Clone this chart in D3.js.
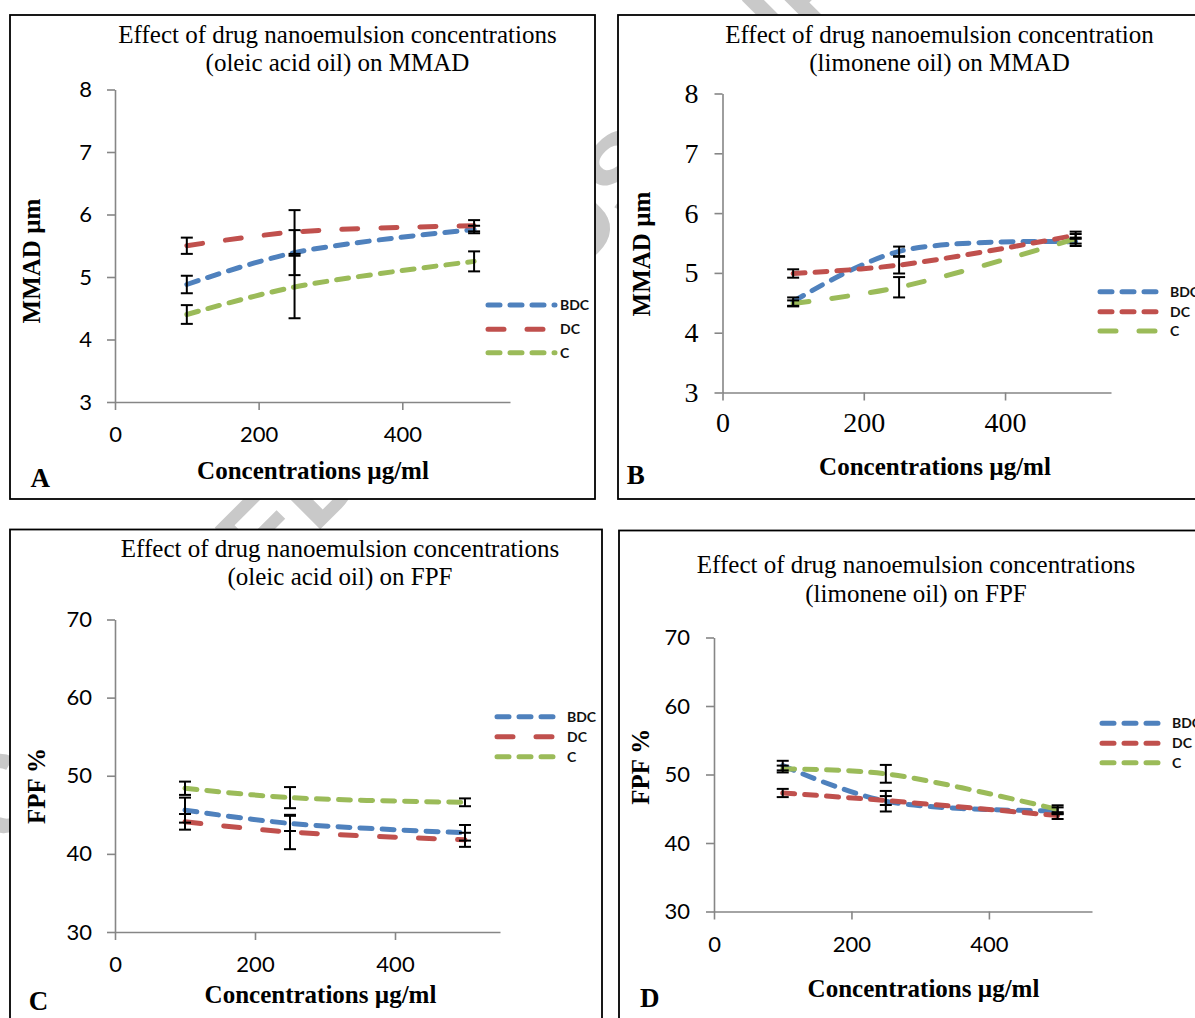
<!DOCTYPE html>
<html>
<head>
<meta charset="utf-8">
<script src="https://cdn.jsdelivr.net/npm/d3@7"></script>
<style>
body { margin: 0; background: #fff; }
svg { display: block; }
</style>
</head>
<body>
<div id="figure"></div>
<script>
// shared categories and ticks
const concentrations = [100, 250, 500];
const seriesNames = ["BDC", "DC", "C"];
const xTicks = [0, 200, 400];
const mmadTicks = [3, 4, 5, 6, 7, 8];
const fpfTicks = [30, 40, 50, 60, 70];

// A: oleic acid oil, MMAD (µm)
const oleicMmadBDC = [4.88, 5.39, 5.76];
const oleicMmadBDCErr = [0.14, 0.36, 0.06];
const oleicMmadDC = [5.50, 5.72, 5.82];
const oleicMmadDCErr = [0.13, 0.35, 0.09];
const oleicMmadC = [4.40, 4.84, 5.25];
const oleicMmadCErr = [0.15, 0.50, 0.16];

// B: limonene oil, MMAD (µm)
const limoMmadBDC = [4.52, 5.36, 5.52];
const limoMmadBDCErr = [0.07, 0.08, 0.07];
const limoMmadDC = [4.99, 5.13, 5.63];
const limoMmadDCErr = [0.07, 0.14, 0.06];
const limoMmadC = [4.49, 4.76, 5.57];
const limoMmadCErr = [0.05, 0.17, 0.08];

// C: oleic acid oil, FPF (%)
const oleicFpfBDC = [45.6, 43.9, 42.7];
const oleicFpfBDCErr = [1.6, 0.97, 1.0];
const oleicFpfDC = [44.1, 42.8, 41.8];
const oleicFpfDCErr = [1.0, 2.2, 0.9];
const oleicFpfC = [48.4, 47.2, 46.6];
const oleicFpfCErr = [0.85, 1.35, 0.5];

// D: limonene oil, FPF (%)
const limoFpfBDC = [51.3, 46.1, 44.7];
const limoFpfBDCErr = [0.7, 1.5, 0.5];
const limoFpfDC = [47.3, 46.2, 44.0];
const limoFpfDCErr = [0.6, 0.65, 0.5];
const limoFpfC = [50.8, 50.1, 44.9];
const limoFpfCErr = [0.5, 1.3, 0.6];

const colors = {BDC: "#4F81BD", DC: "#C0504D", C: "#9BBB59"};
const dashes = {dash: "12,10", long: "16,23"};
const serif = "'Liberation Serif', 'Times New Roman', serif";
const sans = "Lato, 'Open Sans', sans-serif";

const panels = [
    {
        letter: "A", box: [10, 15, 585, 484],
        xRange: [115, 510], yRange: [402, 89.5], yDomain: [3, 8], yTicks: mmadTicks,
        tickFont: sans, tickSize: 22, yPad: 15, xBase: 40,
        title: ["Effect of drug nanoemulsion concentrations", "(oleic acid oil) on MMAD"],
        titleX: 337.5, titleY: [42.7, 70.7],
        yTitle: "MMAD µm", yTitlePos: [40, 261], xTitlePos: [313, 479.3], letterPos: [30.5, 486.7],
        values: [oleicMmadBDC, oleicMmadDC, oleicMmadC],
        errors: [oleicMmadBDCErr, oleicMmadDCErr, oleicMmadCErr],
        styles: ["dash", "long", "dash"],
        legend: [488, 555, 560, [305, 329.3, 352.7]]
    },
    {
        letter: "B", box: [618, 15, 600, 484],
        xRange: [722.5, 1111], yRange: [392.5, 93.5], yDomain: [3, 8], yTicks: mmadTicks,
        tickFont: serif, tickSize: 28, yPad: 16, xBase: 39,
        title: ["Effect of drug nanoemulsion concentration", "(limonene oil) on MMAD"],
        titleX: 939.5, titleY: [42.7, 70.7],
        yTitle: "MMAD µm", yTitlePos: [649.5, 254], xTitlePos: [935, 475], letterPos: [626.8, 484],
        values: [limoMmadBDC, limoMmadDC, limoMmadC],
        errors: [limoMmadBDCErr, limoMmadDCErr, limoMmadCErr],
        styles: ["dash", "dash", "long"],
        legend: [1100, 1165, 1170, [291.7, 311.7, 331]]
    },
    {
        letter: "C", box: [10, 529.5, 592, 520],
        xRange: [115, 500], yRange: [932, 619.5], yDomain: [30, 70], yTicks: fpfTicks,
        tickFont: sans, tickSize: 22, yPad: 15, xBase: 40,
        title: ["Effect of drug nanoemulsion concentrations", "(oleic acid oil) on FPF"],
        titleX: 340, titleY: [556.7, 585],
        yTitle: "FPF %", yTitlePos: [45, 786], xTitlePos: [320.5, 1003.3], letterPos: [28.7, 1010],
        values: [oleicFpfBDC, oleicFpfDC, oleicFpfC],
        errors: [oleicFpfBDCErr, oleicFpfDCErr, oleicFpfCErr],
        styles: ["dash", "long", "dash"],
        legend: [497, 563, 567, [716.7, 736.7, 756.7]]
    },
    {
        letter: "D", box: [619, 530.5, 600, 520],
        xRange: [714, 1092], yRange: [911.5, 637.5], yDomain: [30, 70], yTicks: fpfTicks,
        tickFont: sans, tickSize: 22, yPad: 16, xBase: 40,
        title: ["Effect of drug nanoemulsion concentrations", "(limonene oil) on FPF"],
        titleX: 916, titleY: [573.3, 601.7],
        yTitle: "FPF %", yTitlePos: [649, 766.7], xTitlePos: [923.5, 996.7], letterPos: [640, 1006.7],
        values: [limoFpfBDC, limoFpfDC, limoFpfC],
        errors: [limoFpfBDCErr, limoFpfDCErr, limoFpfCErr],
        styles: ["dash", "dash", "dash"],
        legend: [1102, 1167, 1172, [723.3, 743.3, 762.7]]
    }
];

const svg = d3.select("#figure")
    .append("svg")
    .attr("width", 1195)
    .attr("height", 1018);

svg.append("rect")
    .attr("width", 1195)
    .attr("height", 1018)
    .attr("fill", "#fff");

// faint watermark behind the panels, only peeks through the gaps
svg.append("text")
    .attr("transform", "translate(400,395) rotate(-45)")
    .attr("text-anchor", "middle")
    .attr("dominant-baseline", "central")
    .attr("font-family", "'Liberation Sans', sans-serif")
    .attr("font-weight", "bold")
    .attr("font-size", 110)
    .attr("fill", "#c9c9c9")
    .text("ACCEPTED MANUSCRIPT");

const drawPanel = (p) =>
{
    const g = svg.append("g").attr("id", `panel-${p.letter}`);

    g.append("rect")
        .attr("x", p.box[0])
        .attr("y", p.box[1])
        .attr("width", p.box[2])
        .attr("height", p.box[3])
        .attr("fill", "#fff")
        .attr("stroke", "#000")
        .attr("stroke-width", 1.8);

    const x = d3.scaleLinear().domain([0, 550]).range(p.xRange);
    const y = d3.scaleLinear().domain(p.yDomain).range(p.yRange);

    // axes
    const yAxis = g.append("g")
        .attr("transform", `translate(${p.xRange[0]},0)`)
        .call(d3.axisLeft(y).tickValues(p.yTicks).tickFormat(d3.format("d"))
            .tickSize(8).tickSizeOuter(0).tickPadding(p.yPad));
    const xAxis = g.append("g")
        .attr("transform", `translate(0,${p.yRange[0]})`)
        .call(d3.axisBottom(x).tickValues(xTicks).tickFormat(d3.format("d"))
            .tickSize(8).tickSizeOuter(0));

    [yAxis, xAxis].forEach(ax =>
    {
        ax.select(".domain").attr("stroke", "#868686").attr("stroke-width", 1.6);
        ax.selectAll(".tick line").attr("stroke", "#868686").attr("stroke-width", 1.6);
        ax.selectAll(".tick text")
            .attr("fill", "#000")
            .attr("font-family", p.tickFont)
            .attr("font-size", p.tickSize);
    });
    xAxis.selectAll(".tick text").attr("y", p.xBase).attr("dy", 0);

    // titles
    const title = g.append("text")
        .attr("text-anchor", "middle")
        .attr("font-family", serif)
        .attr("font-size", 25)
        .attr("fill", "#000");
    p.title.forEach((line, i) =>
    {
        title.append("tspan").attr("x", p.titleX).attr("y", p.titleY[i]).text(line);
    });

    g.append("text")
        .attr("transform", `translate(${p.yTitlePos[0]},${p.yTitlePos[1]}) rotate(-90)`)
        .attr("text-anchor", "middle")
        .attr("font-family", serif)
        .attr("font-weight", "bold")
        .attr("font-size", 25)
        .text(p.yTitle);

    g.append("text")
        .attr("x", p.xTitlePos[0])
        .attr("y", p.xTitlePos[1])
        .attr("text-anchor", "middle")
        .attr("font-family", serif)
        .attr("font-weight", "bold")
        .attr("font-size", 25)
        .text("Concentrations µg/ml");

    g.append("text")
        .attr("x", p.letterPos[0])
        .attr("y", p.letterPos[1])
        .attr("font-family", serif)
        .attr("font-weight", "bold")
        .attr("font-size", 27)
        .text(p.letter);

    // series lines
    const line = d3.line()
        .x(d => x(d[0]))
        .y(d => y(d[1]))
        .curve(d3.curveCatmullRom);

    seriesNames.forEach((name, si) =>
    {
        const pts = concentrations.map((c, i) => [c, p.values[si][i]]);
        g.append("path")
            .datum(pts)
            .attr("d", line)
            .attr("fill", "none")
            .attr("stroke", colors[name])
            .attr("stroke-width", 5)
            .attr("stroke-linecap", "round")
            .attr("stroke-dasharray", dashes[p.styles[si]]);
    });

    // error bars on top
    seriesNames.forEach((name, si) =>
    {
        const bars = g.append("g").attr("class", `err-${name}`);
        concentrations.forEach((c, i) =>
        {
            const v = p.values[si][i];
            const e = p.errors[si][i];
            const cx = x(c);
            bars.append("line")
                .attr("x1", cx).attr("x2", cx)
                .attr("y1", y(v + e)).attr("y2", y(v - e));
            [v + e, v - e].forEach(t =>
            {
                bars.append("line")
                    .attr("x1", cx - 6).attr("x2", cx + 6)
                    .attr("y1", y(t)).attr("y2", y(t));
            });
        });
        bars.selectAll("line").attr("stroke", "#000").attr("stroke-width", 2);
    });

    // legend
    const [lx0, lx1, tx, ly] = p.legend;
    seriesNames.forEach((name, si) =>
    {
        g.append("line")
            .attr("x1", lx0).attr("x2", lx1)
            .attr("y1", ly[si]).attr("y2", ly[si])
            .attr("stroke", colors[name])
            .attr("stroke-width", 5)
            .attr("stroke-linecap", "round")
            .attr("stroke-dasharray", dashes[p.styles[si]]);
        g.append("text")
            .attr("x", tx)
            .attr("y", ly[si] + 5)
            .attr("font-family", sans)
            .attr("font-weight", "bold")
            .attr("font-size", 14)
            .attr("fill", "#111")
            .text(name);
    });
}

panels.forEach(drawPanel);
</script>
</body>
</html>
